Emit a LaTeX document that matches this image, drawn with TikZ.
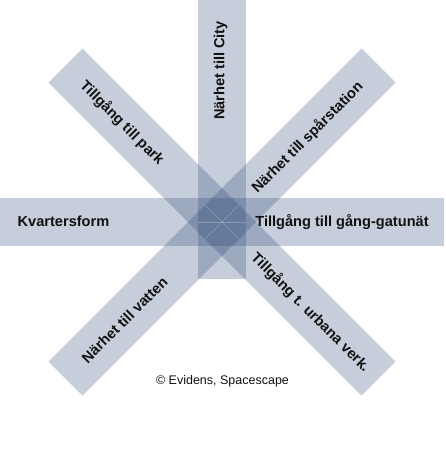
\documentclass[tikz,border=0pt]{standalone}
\usepackage{fontspec}
\setmainfont{Liberation Sans}
\definecolor{barcol}{RGB}{30,60,110}
\definecolor{txt}{RGB}{17,17,17}
\begin{document}
\begin{tikzpicture}[x=1pt,y=-1pt,
  bar/.style={fill=barcol,fill opacity=0.25,draw=none},
  seam/.style={draw=white,draw opacity=0.25,line width=0.5pt},
  lbl/.style={font=\fontsize{14.6}{17}\selectfont\bfseries,text=txt,inner sep=0pt,
    text height=10.5pt,text depth=0pt,anchor=center}]
\useasboundingbox (0,0) rectangle (445,458);
% bars
\fill[bar] (0,198) rectangle (444,246);
\fill[bar] (198,0) rectangle (246,279);
\fill[bar] (82.5,48.5) -- (395.5,361.5) -- (361.5,395.5) -- (48.5,82.5) -- cycle;
\fill[bar] (361.5,48.5) -- (395.5,82.5) -- (82.5,395.5) -- (48.5,361.5) -- cycle;
% faint seams in the centre
\coordinate (c) at (222,222);
\draw[seam] (198,222) -- (246,222);
\draw[seam] (205,205) -- (239,239);
\draw[seam] (239,205) -- (205,239);
% labels
\node[lbl] (kv) at (63.5,221) {Kvartersform};
\node[lbl] (gg) at (342,221) {Tillgång till gång-gatunät};
\node[lbl,rotate=90] (city) at (219,70.5) {Närhet till City};
\node[lbl,rotate=-45] (park) at (122.5,122.5) {Tillgång till park};
\node[lbl,rotate=45] (spar) at (307,137) {Närhet till spårstation};
\node[lbl,rotate=45] (vatten) at (124.5,320) {Närhet till vatten};
\node[lbl,rotate=-45] (urb) at (311,312) {Tillgång t. urbana verk.};
\node[font=\fontsize{12.5}{15}\selectfont,text=txt,inner sep=0pt] (copy) at (222.5,381) {© Evidens, Spacescape};
\end{tikzpicture}
\end{document}
